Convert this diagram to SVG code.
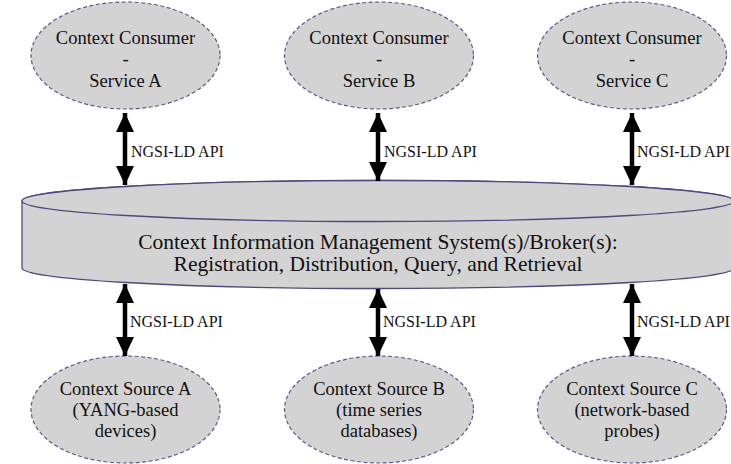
<svg xmlns="http://www.w3.org/2000/svg" width="731" height="464" viewBox="0 0 731 464">
<style>
.node{fill:#d3d3d3;stroke:#5a5a8c;stroke-width:1.2;stroke-dasharray:4 2.5}
.cyl{fill:#d3d3d3;stroke:#4a4a80;stroke-width:1.3}
.t{font-size:18.5px;fill:#111;text-anchor:middle}
.ct{font-size:21.5px;fill:#111;text-anchor:middle}
.lbl{font-size:16px;fill:#111}
.arr{stroke:#000;stroke-width:4.5;marker-start:url(#head);marker-end:url(#head)}
</style>
<defs>
<marker id="head" markerUnits="userSpaceOnUse" viewBox="0 0 19 18" refX="19" refY="9" markerWidth="19" markerHeight="18" orient="auto-start-reverse">
<path d="M0,0 L19,9 L0,18 Z" fill="#000"/>
</marker>
</defs>
<rect width="731" height="464" fill="#fff"/>
<g font-family="Liberation Serif, Times New Roman, serif">
<g id="broker">
<path class="cyl" d="M22,201 L22,268 A356,20.5 0 0 0 734,268 L734,201 A356,20.5 0 0 0 22,201 Z"/>
<ellipse class="cyl" cx="378" cy="201" rx="356" ry="20.5" fill="none"/>
<text class="ct" x="378" y="249">Context Information Management System(s)/Broker(s):</text>
<text class="ct" x="378" y="271">Registration, Distribution, Query, and Retrieval</text>
</g>
<g id="consumerA">
<ellipse class="node" cx="125.5" cy="55.5" rx="94.5" ry="53.5"/>
<text class="t" x="125.5" y="44">Context Consumer</text>
<text class="t" x="125.5" y="65">-</text>
<text class="t" x="125.5" y="87">Service A</text>
</g>
<g id="consumerB">
<ellipse class="node" cx="379" cy="55.5" rx="94.5" ry="53.5"/>
<text class="t" x="379" y="44">Context Consumer</text>
<text class="t" x="379" y="65">-</text>
<text class="t" x="379" y="87">Service B</text>
</g>
<g id="consumerC">
<ellipse class="node" cx="632" cy="55.5" rx="94.5" ry="53.5"/>
<text class="t" x="632" y="44">Context Consumer</text>
<text class="t" x="632" y="65">-</text>
<text class="t" x="632" y="87">Service C</text>
</g>
<g id="sourceA">
<ellipse class="node" cx="125.5" cy="409.5" rx="94.5" ry="53.5"/>
<text class="t" x="125.5" y="395">Context Source A</text>
<text class="t" x="125.5" y="416">(YANG-based</text>
<text class="t" x="125.5" y="437">devices)</text>
</g>
<g id="sourceB">
<ellipse class="node" cx="379" cy="409.5" rx="94.5" ry="53.5"/>
<text class="t" x="379" y="395">Context Source B</text>
<text class="t" x="379" y="416">(time series</text>
<text class="t" x="379" y="437">databases)</text>
</g>
<g id="sourceC">
<ellipse class="node" cx="632" cy="409.5" rx="94.5" ry="53.5"/>
<text class="t" x="632" y="395">Context Source C</text>
<text class="t" x="632" y="416">(network-based</text>
<text class="t" x="632" y="437">probes)</text>
</g>
<g id="connectors">
<line class="arr" x1="125" y1="113" x2="125" y2="185"/>
<line class="arr" x1="378" y1="113" x2="378" y2="181"/>
<line class="arr" x1="632" y1="113" x2="632" y2="185"/>
<line class="arr" x1="125" y1="284" x2="125" y2="356"/>
<line class="arr" x1="378" y1="289" x2="378" y2="356"/>
<line class="arr" x1="632" y1="284" x2="632" y2="356"/>
<text class="lbl" x="131" y="157">NGSI-LD API</text>
<text class="lbl" x="384" y="157">NGSI-LD API</text>
<text class="lbl" x="637" y="157">NGSI-LD API</text>
<text class="lbl" x="130" y="327">NGSI-LD API</text>
<text class="lbl" x="383" y="327">NGSI-LD API</text>
<text class="lbl" x="637" y="327">NGSI-LD API</text>
</g>
</g>
</svg>
